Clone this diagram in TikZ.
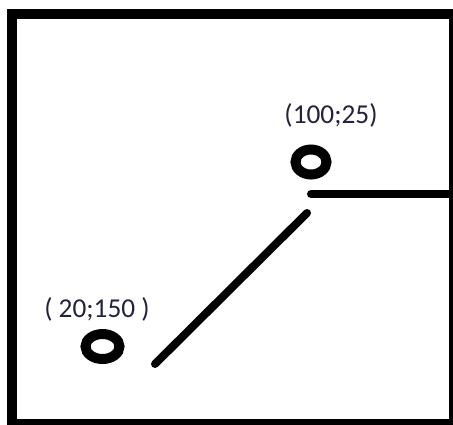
\documentclass[tikz,border=0pt]{standalone}
\usepackage{fontspec}
\setmainfont{Carlito}
\usetikzlibrary{shapes.geometric}
\definecolor{labelink}{RGB}{35,35,60}
\begin{document}
\begin{tikzpicture}[x=1pt,y=-1pt,
  ring/.style={draw=black,shape=ellipse,line width=10pt,inner sep=0pt,minimum width=31pt,minimum height=25pt},
  coordlabel/.style={text=labelink,anchor=base,inner sep=0pt,font=\fontsize{27.3}{30}\selectfont},
  thickline/.style={draw=black,line width=8pt,line cap=round}]
\useasboundingbox (0,0) rectangle (453,424);
\clip (0,0) rectangle (453,424);
\fill[white] (0,0) rectangle (453,424);
\draw[line width=10pt] (12,14) rectangle (454,424);
\node[ring] (p1) at (311,162) {};
\node[ring,minimum width=34pt] (p2) at (102.5,346.5) {};
\node[coordlabel] (l1) at (331,123) {(100;25)};
\node[coordlabel] (l2) at (97,317) {( 20;150 )};
\coordinate (h1) at (311,194);
\coordinate (h2) at (470,194);
\coordinate (d1) at (155,364);
\coordinate (d2) at (307,213);
\draw[thickline] (h1) -- (h2);
\draw[thickline] (d1) -- (d2);
\end{tikzpicture}
\end{document}
